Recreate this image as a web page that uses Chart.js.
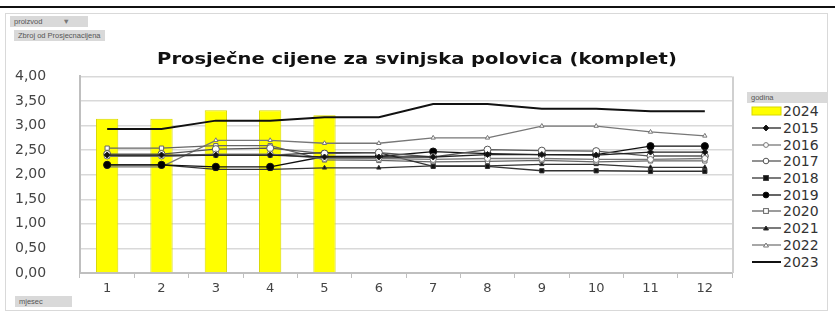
<!DOCTYPE html>
<html>
<head>
<meta charset="utf-8">
<script src="https://cdn.jsdelivr.net/npm/chart.js@4.4.1/dist/chart.umd.min.js"></script>
<style>
  html, body { margin: 0; padding: 0; background: #fff; }
  body { width: 835px; height: 322px; position: relative; overflow: hidden; font-family: "DejaVu Sans", sans-serif; }
  .topline { position: absolute; left: 0; top: 6px; width: 835px; height: 2px; background: #111; }
  .frame { position: absolute; left: 5px; top: 13px; width: 823px; height: 298px; border: 1px solid #d9d9d9; box-sizing: border-box; }
  .btn { position: absolute; background: #d9d9d9; color: #555; font-size: 7.5px; line-height: 11px; padding: 0 4px; white-space: nowrap; font-family: "Liberation Sans", sans-serif; }
  .title { position: absolute; left: 0; width: 835px; top: 50px; text-align: center; font-weight: bold; font-size: 16px; color: #111; transform: scaleX(1.22); transform-origin: 420px 0; line-height: 18px; }
  #wrap { position: absolute; left: 0; top: 64px; width: 740px; height: 236px; }
  #legend { position: absolute; left: 748px; top: 103px; }
  .lg { height: 16.7px; display: flex; align-items: center; font-size: 14px; color: #333; }
  .lg svg { margin-right: 1px; }
</style>
</head>
<body>
<div class="topline"></div>
<div class="frame"></div>
<div class="btn" style="left:10px; top:16px; width:70px;">proizvod <span style="margin-left:18px;color:#777;">&#9660;</span></div>
<div class="btn" style="left:14px; top:30px;">Zbroj od Prosjecnacijena</div>
<div class="btn" style="left:15px; top:296px; width:49px;">mjesec</div>
<div class="btn" style="left:747px; top:92px; width:73px;">godina</div>
<div id="wrap"><canvas id="c" width="740" height="236"></canvas></div>
<div class="title">Prosječne cijene za svinjska polovica (komplet)</div>
<div id="legend"></div>
<script>
// Months on the x axis
const months = ['1', '2', '3', '4', '5', '6', '7', '8', '9', '10', '11', '12'];
// Y axis tick values (EUR per kg)
const yTicks = [0, 0.5, 1, 1.5, 2, 2.5, 3, 3.5, 4];

// Average prices per month, one array per year
const y2024 = [3.14, 3.14, 3.31, 3.31, 3.21, null, null, null, null, null, null, null];
const y2015 = [2.40, 2.40, 2.40, 2.40, 2.36, 2.36, 2.36, 2.41, 2.41, 2.40, 2.46, 2.46];
const y2016 = [2.38, 2.38, 2.42, 2.42, 2.33, 2.33, 2.31, 2.33, 2.33, 2.31, 2.31, 2.33];
const y2017 = [2.42, 2.42, 2.52, 2.54, 2.43, 2.45, 2.36, 2.51, 2.49, 2.48, 2.38, 2.38];
const y2018 = [2.38, 2.38, 2.40, 2.40, 2.45, 2.45, 2.17, 2.17, 2.08, 2.08, 2.07, 2.07];
const y2019 = [2.20, 2.20, 2.16, 2.16, 2.37, 2.37, 2.47, 2.43, 2.41, 2.41, 2.58, 2.58];
const y2020 = [2.54, 2.54, 2.59, 2.59, 2.30, 2.29, 2.26, 2.27, 2.29, 2.26, 2.28, 2.28];
const y2021 = [2.20, 2.20, 2.11, 2.11, 2.14, 2.14, 2.18, 2.18, 2.21, 2.21, 2.15, 2.15];
const y2022 = [2.16, 2.16, 2.70, 2.70, 2.64, 2.64, 2.75, 2.75, 2.99, 2.99, 2.87, 2.79];
const y2023 = [2.93, 2.93, 3.10, 3.10, 3.17, 3.17, 3.44, 3.44, 3.34, 3.34, 3.29, 3.29];

// Line series with their marker styles
const lineSeries = [
  { label: '2015', data: y2015, color: '#222', point: 'rectRot', fill: '#111', r: 3 },
  { label: '2016', data: y2016, color: '#777', point: 'circle', fill: '#fff', r: 3 },
  { label: '2017', data: y2017, color: '#555', point: 'circle', fill: '#fff', r: 3.5 },
  { label: '2018', data: y2018, color: '#333', point: 'rect', fill: '#111', r: 3 },
  { label: '2019', data: y2019, color: '#111', point: 'circle', fill: '#000', r: 3.6 },
  { label: '2020', data: y2020, color: '#666', point: 'rect', fill: '#fff', r: 3 },
  { label: '2021', data: y2021, color: '#333', point: 'triangle', fill: '#111', r: 2.5 },
  { label: '2022', data: y2022, color: '#777', point: 'triangle', fill: '#fff', r: 2.5 },
  { label: '2023', data: y2023, color: '#111', point: false, fill: '#111', r: 0, width: 2 }
];

const datasets = [{
  type: 'bar',
  label: '2024',
  data: y2024,
  backgroundColor: '#ffff00',
  borderColor: '#d8d800',
  borderWidth: 1,
  barPercentage: 0.41,
  categoryPercentage: 1,
  order: 2
}].concat(lineSeries.map(s => ({
  type: 'line',
  label: s.label,
  data: s.data,
  borderColor: s.color,
  borderWidth: s.width || 1.3,
  pointStyle: s.point,
  pointRadius: s.r,
  pointBackgroundColor: s.fill,
  pointBorderColor: s.color,
  pointBorderWidth: 1,
  tension: 0,
  order: 1
})));

// Right edge of the plot area
const plotEdge = {
  id: 'plotEdge',
  afterDraw(chart) {
    const { ctx, chartArea: a } = chart;
    ctx.save();
    ctx.strokeStyle = '#d0d0d0';
    ctx.lineWidth = 2;
    ctx.beginPath();
    ctx.moveTo(a.right + 1, a.top);
    ctx.lineTo(a.right + 1, a.bottom);
    ctx.stroke();
    ctx.restore();
  }
};

new Chart(document.getElementById('c'), {
  data: { labels: months, datasets },
  options: {
    responsive: false,
    animation: false,
    layout: { padding: { top: 0, right: 8, left: 15, bottom: 0 } },
    plugins: { legend: { display: false }, tooltip: { enabled: false } },
    scales: {
      x: {
        grid: { display: true, drawOnChartArea: false, drawTicks: true, tickLength: 5, color: '#bfbfbf', offset: true },
        border: { color: '#bfbfbf', width: 2 },
        ticks: { color: '#444', font: { family: 'DejaVu Sans', size: 13 }, padding: 3 },
        afterFit(s) { s.height = 27; }
      },
      y: {
        min: 0, max: 4,
        afterBuildTicks(s) { s.ticks = yTicks.map(v => ({ value: v })); },
        grid: { color: '#d9d9d9', lineWidth: 1.5, drawTicks: false },
        border: { color: '#bfbfbf', width: 2 },
        ticks: {
          color: '#444', font: { family: 'DejaVu Sans', size: 14 }, padding: 4, crossAlign: 'far',
          callback: v => v.toFixed(2).replace('.', ',')
        },
        afterFit(s) { s.width = 65; }
      }
    }
  },
  plugins: [plotEdge]
});

// Legend: the bar year first, then the line years
const legend = document.getElementById('legend');
function addRow(label, svg) {
  const row = document.createElement('div');
  row.className = 'lg';
  row.innerHTML = svg + '<span>' + label + '</span>';
  legend.appendChild(row);
}
addRow('2024', '<svg width="34" height="12"><rect x="4" y="2" width="29" height="8" fill="#ffff00" stroke="#d8d800"/></svg>');
lineSeries.forEach(s => {
  let m = '';
  if (s.point === 'circle') m = `<circle cx="18" cy="6" r="${s.r * 0.8}" fill="${s.fill}" stroke="${s.color}"/>`;
  else if (s.point === 'rect') m = `<rect x="${18 - s.r * 0.8}" y="${6 - s.r * 0.8}" width="${s.r * 1.6}" height="${s.r * 1.6}" fill="${s.fill}" stroke="${s.color}"/>`;
  else if (s.point === 'rectRot') m = `<polygon points="18,3 21,6 18,9 15,6" fill="${s.fill}" stroke="${s.color}"/>`;
  else if (s.point === 'triangle') m = `<polygon points="18,4 20.5,8 15.5,8" fill="${s.fill}" stroke="${s.color}"/>`;
  addRow(s.label, `<svg width="34" height="12"><line x1="4" y1="6" x2="33" y2="6" stroke="${s.color}" stroke-width="${s.width || 1.3}"/>${m}</svg>`);
});
</script>
</body>
</html>
